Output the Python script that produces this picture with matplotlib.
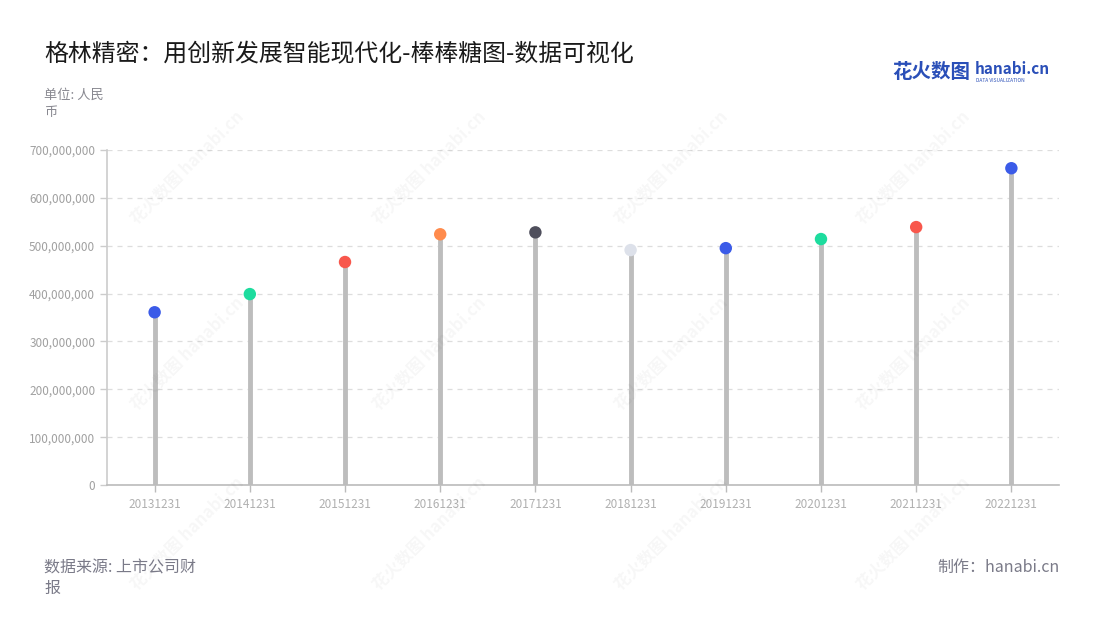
import numpy as np
import matplotlib.pyplot as plt
from matplotlib.ticker import FuncFormatter

plt.rcParams['font.family'] = ['Noto Sans CJK SC', 'DejaVu Sans']

# --- data ---
dates = ["20131231", "20141231", "20151231", "20161231", "20171231",
         "20181231", "20191231", "20201231", "20211231", "20221231"]
values = [361e6, 399e6, 466e6, 524e6, 528e6, 491e6, 495e6, 514e6, 539e6, 662e6]
dot_colors = ["#3b5be8", "#1ddc9e", "#f8574c", "#ff8b4c", "#4f4f5c",
              "#dde1ea", "#3b5be8", "#1ddc9e", "#f8574c", "#3b5be8"]
y_ticks = [0, 100e6, 200e6, 300e6, 400e6, 500e6, 600e6, 700e6]

fig = plt.figure(figsize=(11, 6.2), dpi=100)
ax = fig.add_axes([0.0973, 0.2177, 0.8654, 0.5403])

x = np.arange(len(dates))
ax.vlines(x, 0, values, color="#bdbdbd", linewidth=3.5, zorder=2)
ax.scatter(x, values, s=80, c=dot_colors, zorder=3, linewidths=0)

ax.set_xlim(-0.5, len(dates) - 0.5)
ax.set_ylim(0, 700e6)
ax.set_yticks(y_ticks)
ax.yaxis.set_major_formatter(FuncFormatter(lambda v, p: f"{int(v):,}"))
ax.set_xticks(x)
ax.set_xticklabels(dates)

ax.grid(axis="y", linestyle=(0, (4, 4)), color="#dddddd", linewidth=0.9, zorder=0)
for s in ["top", "right"]:
    ax.spines[s].set_visible(False)
ax.spines["left"].set_color("#cccccc")
ax.spines["bottom"].set_color("#bbbbbb")
ax.spines["left"].set_linewidth(1.2)
ax.spines["bottom"].set_linewidth(1.2)
ax.tick_params(axis="y", colors="#cccccc", labelcolor="#a0a0a0", labelsize=8.5, length=5, width=1)
ax.tick_params(axis="x", colors="#bbbbbb", labelcolor="#b0b0b0", labelsize=8.5, length=5, width=1, pad=4)

# faint watermarks
for wx in [0.17, 0.39, 0.61, 0.83]:
    for wy in [0.73, 0.43, 0.14]:
        fig.text(wx, wy, "花火数图 hanabi.cn", rotation=45, fontsize=12, color="#000000",
                 alpha=0.035, ha="center", va="center", fontweight="bold")

# titles and notes
fig.text(44 / 1100, 1 - 55 / 620, "格林精密：用创新发展智能现代化-棒棒糖图-数据可视化",
         fontsize=17.2, color="#1a1a1a", va="center")
fig.text(44 / 1100, 1 - 104 / 620, "单位: 人民\n币", fontsize=9.5, color="#888890",
         va="center", linespacing=1.35)
fig.text(44 / 1100, 1 - 578 / 620, "数据来源: 上市公司财\n报", fontsize=11.5, color="#7a7a88",
         va="center", linespacing=1.3)
fig.text(1060 / 1100, 1 - 567 / 620, "制作：hanabi.cn", fontsize=11.5, color="#7a7a88",
         va="center", ha="right")

# logo
fig.text(892 / 1100, 1 - 72 / 620, "花火数图", fontsize=14, color="#2a4fb8",
         fontweight="bold", va="center")
fig.text(975 / 1100, 1 - 69 / 620, "hanabi.cn", fontsize=11, color="#2a4fb8",
         fontweight="bold", va="center")
fig.text(976 / 1100, 1 - 80 / 620, "DATA VISUALIZATION", fontsize=3.5, color="#2a4fb8",
         va="center")

fig.savefig("out.png", dpi=100)
